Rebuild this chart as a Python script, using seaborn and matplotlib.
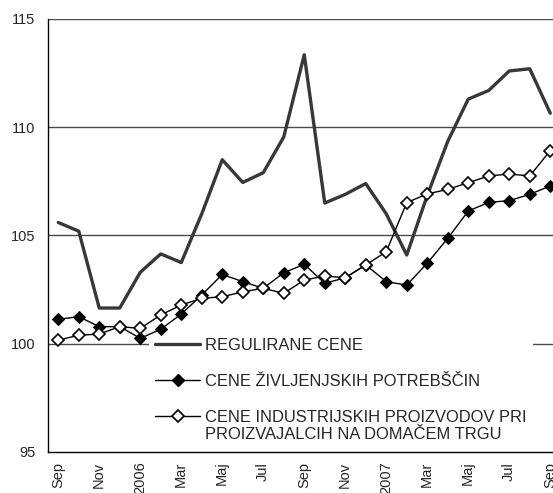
import numpy as np
import pandas as pd
import seaborn as sns
import matplotlib.pyplot as plt
from matplotlib.lines import Line2D

# mesečne vrednosti, sep 2005 - sep 2007
meseci = ["Sep", "Okt", "Nov", "Dec", "2006", "Feb", "Mar", "Apr", "Maj", "Jun",
          "Jul", "Avg", "Sep", "Okt", "Nov", "Dec", "2007", "Feb", "Mar", "Apr",
          "Maj", "Jun", "Jul", "Avg", "Sep"]

regulirane = [105.6, 105.2, 101.65, 101.65, 103.3, 104.15, 103.75, 106.0, 108.5, 107.45,
              107.9, 109.55, 113.35, 106.5, 106.9, 107.4, 106.0, 104.1, 106.85, 109.35,
              111.3, 111.7, 112.6, 112.7, 110.65]
zivljenjske = [101.13, 101.25, 100.79, 100.79, 100.25, 100.67, 101.37, 102.25, 103.2, 102.87,
               102.56, 103.28, 103.67, 102.79, 103.05, 103.64, 102.87, 102.71, 103.72, 104.87,
               106.13, 106.53, 106.61, 106.9, 107.29]
industrijski = [100.17, 100.39, 100.45, 100.79, 100.71, 101.33, 101.79, 102.1, 102.17, 102.4,
                102.56, 102.33, 102.94, 103.13, 103.05, 103.64, 104.25, 106.52, 106.92, 107.13,
                107.44, 107.75, 107.84, 107.75, 108.92]

oznake = ["REGULIRANE CENE", "CENE ŽIVLJENJSKIH POTREBŠČIN",
          "CENE INDUSTRIJSKIH PROIZVODOV PRI"]
oznaka_2 = "PROIZVAJALCIH NA DOMAČEM TRGU"

sns.set_style("white")
plt.rcParams["font.family"] = ["Liberation Sans", "DejaVu Sans"]

df = pd.DataFrame({"x": np.arange(len(meseci)), "reg": regulirane,
                   "ziv": zivljenjske, "ind": industrijski})

W, H = 553, 493
fig = plt.figure(figsize=(W / 100, H / 100), dpi=100)
ax = fig.add_axes([48 / W, (H - 452) / H, (560.5 - 48) / W, 433 / H])

sns.lineplot(data=df, x="x", y="reg", ax=ax, color="#383838", lw=2.4, zorder=3)
sns.lineplot(data=df, x="x", y="ziv", ax=ax, color="black", lw=1, marker="D",
             markersize=6.5, markerfacecolor="black", markeredgecolor="black", zorder=4)
sns.lineplot(data=df, x="x", y="ind", ax=ax, color="black", lw=1, marker="D",
             markersize=6.5, markerfacecolor="white", markeredgecolor="black",
             markeredgewidth=1.2, zorder=5)

ax.set_xlim(-0.5, len(meseci) - 0.5)
ax.set_ylim(95, 115)
ax.set_yticks([95, 100, 105, 110, 115])
for y in [100, 105, 110, 115]:
    ax.axhline(y, color="#4a4a4a", lw=1, zorder=1)

ax.set_xticks(np.arange(len(meseci))[::2])
ax.set_xticklabels(meseci[::2], rotation=90, fontsize=10.5)
ax.set_xticks(np.arange(-0.5, len(meseci)), minor=True)
ax.tick_params(axis="x", which="major", length=0, pad=7)
ax.tick_params(axis="x", which="minor", length=5, width=1, color="black", direction="out")
ax.tick_params(axis="y", length=5, width=1, color="black", direction="out",
               labelsize=10.5, pad=4)
ax.set_xlabel("")
ax.set_ylabel("")

sns.despine(ax=ax, top=True, right=True)
for s in ["left", "bottom"]:
    ax.spines[s].set_color("black")
    ax.spines[s].set_linewidth(1)

rocke = [Line2D([], [], color="#383838", lw=2.4),
         Line2D([], [], color="black", lw=1, marker="D", markersize=6.5,
                markerfacecolor="black"),
         Line2D([], [], color="black", lw=1, marker="D", markersize=6.5,
                markerfacecolor="white", markeredgewidth=1.2)]
leg = ax.legend(rocke, oznake, loc="upper left", bbox_to_anchor=(0.180, 0.298),
                frameon=True, facecolor="white", edgecolor="none", framealpha=1,
                fontsize=11.9, handlelength=2.73, handletextpad=0.28,
                labelspacing=1.28, borderpad=0.4, fancybox=False)
# legenda pod črtami, prekrije le mrežo
leg.set_zorder(2.5)

# druga vrstica tretje oznake
fig.canvas.draw()
bb = leg.get_texts()[2].get_window_extent()
fig.text(bb.x0 / W, (bb.y0 - 17) / H, oznaka_2, fontsize=11.9, va="bottom", ha="left")

fig.savefig("out.png", dpi=100)
